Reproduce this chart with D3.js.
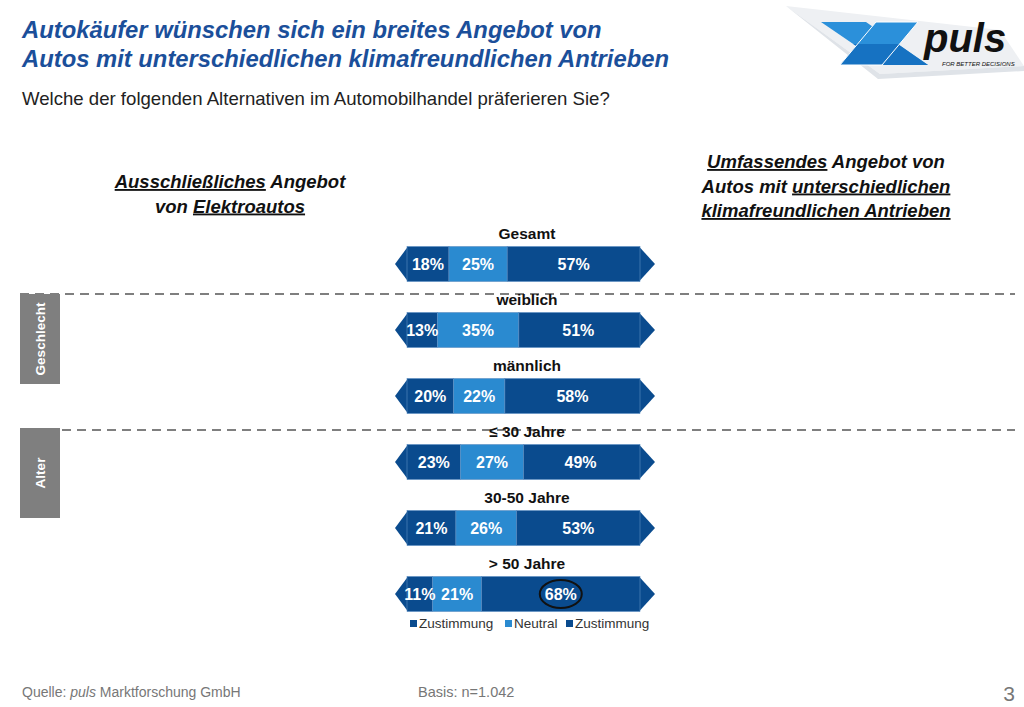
<!DOCTYPE html>
<html>
<head>
<meta charset="utf-8">
<script src="https://cdn.jsdelivr.net/npm/d3@7"></script>
<style>
  body { margin: 0; background: #fff; }
  svg { display: block; font-family: Arial, "Liberation Sans", sans-serif; }
</style>
</head>
<body>
<div id="chart"></div>
<script>
// data
var categories = ["Gesamt", "weiblich", "männlich", "≤ 30 Jahre", "30-50 Jahre", "> 50 Jahre"];
var elektro = [18, 13, 20, 23, 21, 11];   // Ausschließliches Angebot von Elektroautos
var neutral = [25, 35, 22, 27, 26, 21];
var umfassend = [57, 51, 58, 49, 53, 68]; // Umfassendes Angebot
var seriesNames = ["Zustimmung", "Neutral", "Zustimmung"];
var groups = [
  { name: "Geschlecht", from: 1, line: 294, box: [294, 384] },
  { name: "Alter", from: 3, line: 430, box: [428, 518] }
];

var W = 1024, H = 707;
var dark = "#0a4b8e", light = "#2a8ad0";
var colors = [dark, light, dark];

var svg = d3.select("#chart").append("svg")
  .attr("width", W).attr("height", H);

var x = d3.scaleLinear().domain([0, 100]).range([407, 640]);
var y = d3.scalePoint().domain(categories).range([264, 594]);
var barH = 35, tip = 12;

// title
svg.append("text").attr("x", 22).attr("y", 38)
  .attr("fill", "#1b4f9a").attr("font-size", 23.8).attr("font-weight", "bold").attr("font-style", "italic")
  .text("Autokäufer wünschen sich ein breites Angebot von");
svg.append("text").attr("x", 22).attr("y", 67)
  .attr("fill", "#1b4f9a").attr("font-size", 23.8).attr("font-weight", "bold").attr("font-style", "italic")
  .text("Autos mit unterschiedlichen klimafreundlichen Antrieben");
svg.append("text").attr("x", 22).attr("y", 105)
  .attr("fill", "#222").attr("font-size", 18.6)
  .text("Welche der folgenden Alternativen im Automobilhandel präferieren Sie?");

// logo
var logo = svg.append("g");
logo.append("path").attr("d", "M786,6 L1000,30 L1024,66 L880,74 Z").attr("fill", "#eef0f3");
logo.append("path").attr("d", "M786,6 L880,74 L1024,66 L1024,71 L878,79 Z").attr("fill", "#dfe3e8");
svg.append("clipPath").attr("id", "lowhalf").append("rect")
  .attr("x", 800).attr("y", 44).attr("width", 140).attr("height", 30);
var armA = "M821,22 L866,22 L928,65 L884,65 Z";
var armB = "M876,22 L918,22 L882,65 L840,65 Z";
[armA, armB].forEach(function (d) {
  logo.append("path").attr("d", d).attr("fill", "#2b90da");
  logo.append("path").attr("d", d).attr("fill", "#1672c2").attr("clip-path", "url(#lowhalf)");
});
logo.append("path").attr("d", armB).attr("fill", "none").attr("stroke", "#fff").attr("stroke-width", 1);
logo.append("text").attr("x", 924).attr("y", 52)
  .attr("font-size", 40).attr("font-weight", "bold").attr("font-style", "italic").attr("fill", "#111")
  .text("puls");
logo.append("text").attr("x", 942).attr("y", 66)
  .attr("font-size", 6).attr("font-style", "italic").attr("fill", "#111")
  .text("FOR BETTER DECISIONS");

// column headers
function header(cx, baseY, lines) {
  lines.forEach(function (parts, i) {
    var t = svg.append("text").attr("x", cx).attr("y", baseY + i * 24.5)
      .attr("text-anchor", "middle").attr("font-size", 18.5).attr("font-weight", "bold")
      .attr("font-style", "italic").attr("fill", "#111");
    parts.forEach(function (p) {
      t.append("tspan").attr("text-decoration", p[1] ? "underline" : null).text(p[0]);
    });
  });
}
header(230, 188, [[["Ausschließliches", 1], [" Angebot", 0]], [["von ", 0], ["Elektroautos", 1]]]);
header(826, 168, [[["Umfassendes", 1], [" Angebot von", 0]],
  [["Autos mit ", 0], ["unterschiedlichen", 1]],
  [["klimafreundlichen Antrieben", 1]]]);

// group separators + side boxes
groups.forEach(function (g) {
  svg.append("line").attr("x1", g.from === 1 ? 20 : 62).attr("x2", 1015)
    .attr("y1", g.line).attr("y2", g.line)
    .attr("stroke", "#7f7f7f").attr("stroke-width", 2).attr("stroke-dasharray", "9,6");
  svg.append("rect").attr("x", 20).attr("y", g.box[0]).attr("width", 40).attr("height", g.box[1] - g.box[0])
    .attr("fill", "#7f7f7f");
  svg.append("text")
    .attr("transform", "translate(45," + ((g.box[0] + g.box[1]) / 2) + ") rotate(-90)")
    .attr("text-anchor", "middle").attr("fill", "#fff").attr("font-size", 13.5).attr("font-weight", "bold")
    .text(g.name);
});

// bars
var rows = categories.map(function (c, i) {
  var vals = [elektro[i], neutral[i], umfassend[i]];
  var acc = 0;
  return {
    cat: c,
    segs: vals.map(function (v, k) {
      var s = { v: v, x0: acc, x1: acc + v, k: k };
      acc += v;
      return s;
    })
  };
});

var row = svg.selectAll("g.row").data(rows).enter().append("g").attr("class", "row")
  .attr("transform", function (d) { return "translate(0," + y(d.cat) + ")"; });

row.append("text").attr("x", 527).attr("y", -barH / 2 - 8)
  .attr("text-anchor", "middle").attr("font-size", 15.5).attr("font-weight", "bold").attr("fill", "#111")
  .text(function (d) { return d.cat; });

// arrow tips
row.append("path")
  .attr("d", function () {
    var l = x(0), h = barH / 2;
    return "M" + (l + 1) + "," + (-h) + " L" + (l - tip) + ",0 L" + (l + 1) + "," + h + " Z";
  })
  .attr("fill", dark);
row.append("path")
  .attr("d", function () {
    var r = x(100), h = barH / 2;
    return "M" + (r - 1) + "," + (-h) + " L" + (r + tip + 3) + ",0 L" + (r - 1) + "," + h + " Z";
  })
  .attr("fill", dark);

row.selectAll("rect.seg").data(function (d) { return d.segs; }).enter().append("rect")
  .attr("class", "seg")
  .attr("x", function (s) { return x(s.x0); })
  .attr("width", function (s) { return (s.k === 2 ? x(100) : x(s.x1)) - x(s.x0); })
  .attr("y", -barH / 2).attr("height", barH)
  .attr("fill", function (s) { return colors[s.k]; })
  .attr("stroke", "#5d8fc4").attr("stroke-width", 0.6);

row.selectAll("text.val").data(function (d) { return d.segs; }).enter().append("text")
  .attr("class", "val")
  .attr("x", function (s) { return (x(s.x0) + x(s.x1)) / 2; })
  .attr("y", 6)
  .attr("text-anchor", "middle").attr("fill", "#fff").attr("font-size", 16).attr("font-weight", "bold")
  .text(function (s) { return s.v + "%"; });

// highlight circle on > 50 Jahre, Umfassendes
var hl = rows[5].segs[2];
svg.append("ellipse")
  .attr("cx", (x(hl.x0) + x(hl.x1)) / 2).attr("cy", y(categories[5]))
  .attr("rx", 21).attr("ry", 14)
  .attr("fill", "none").attr("stroke", "#111").attr("stroke-width", 2);

// legend
var legX = [410, 505, 566];
var leg = svg.selectAll("g.leg").data(seriesNames).enter().append("g").attr("class", "leg")
  .attr("transform", function (d, i) { return "translate(" + legX[i] + ",628)"; });
leg.append("rect").attr("x", 0).attr("y", -8).attr("width", 7).attr("height", 7)
  .attr("fill", function (d, i) { return colors[i]; });
leg.append("text").attr("x", 9).attr("y", 0).attr("font-size", 13.5).attr("fill", "#333")
  .text(function (d) { return d; });

// footer
var q = svg.append("text").attr("x", 22).attr("y", 697).attr("font-size", 14).attr("fill", "#777");
q.append("tspan").text("Quelle: ");
q.append("tspan").attr("font-style", "italic").text("puls");
q.append("tspan").text(" Marktforschung GmbH");
svg.append("text").attr("x", 418).attr("y", 697).attr("font-size", 14.5).attr("fill", "#777")
  .text("Basis: n=1.042");
svg.append("text").attr("x", 1015).attr("y", 701).attr("text-anchor", "end")
  .attr("font-size", 21).attr("fill", "#777").text("3");
</script>
</body>
</html>
